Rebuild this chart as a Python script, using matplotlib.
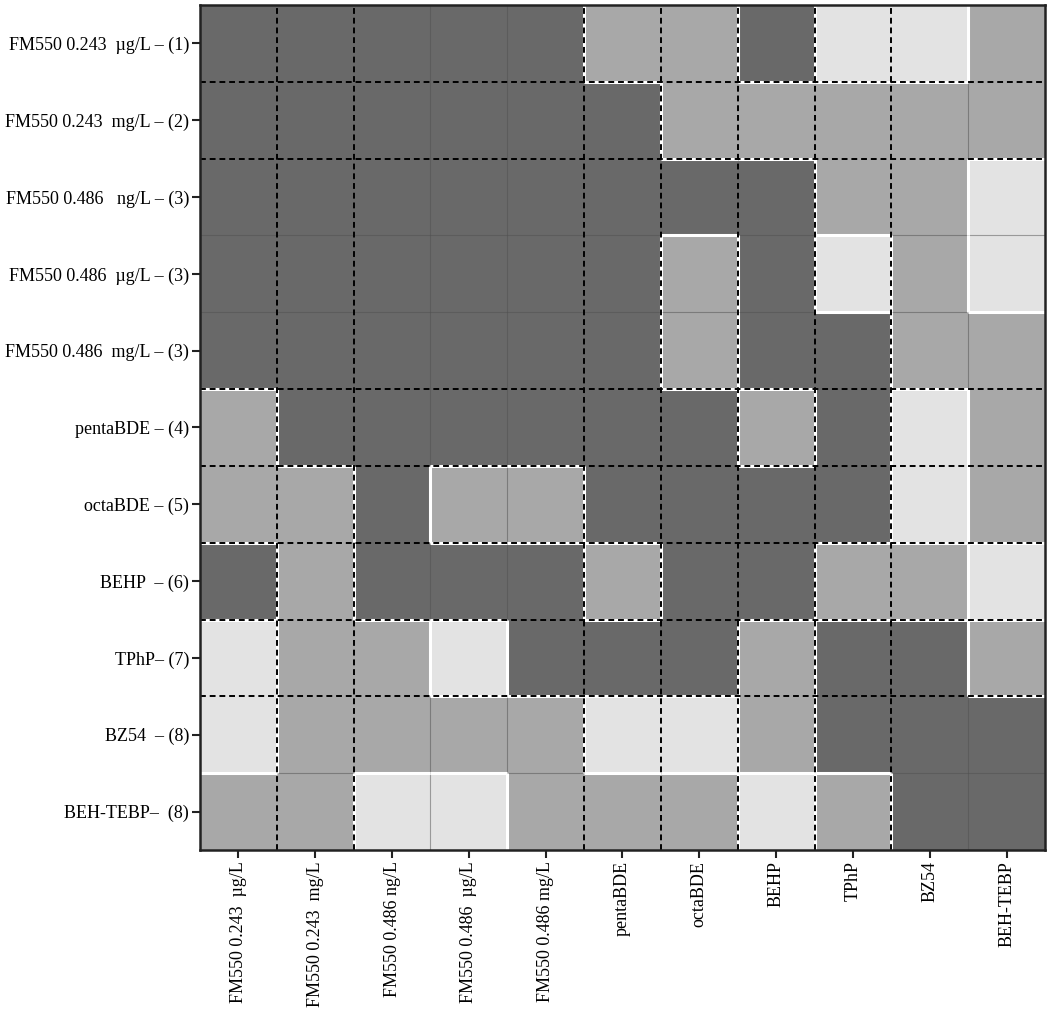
import matplotlib.pyplot as plt
import numpy as np
from matplotlib.colors import ListedColormap

# category labels
row_labels = [
    "FM550 0.243  \u00b5g/L \u2013 (1)",
    "FM550 0.243  mg/L \u2013 (2)",
    "FM550 0.486   ng/L \u2013 (3)",
    "FM550 0.486  \u00b5g/L \u2013 (3)",
    "FM550 0.486  mg/L \u2013 (3)",
    "pentaBDE \u2013 (4)",
    "octaBDE \u2013 (5)",
    "BEHP  \u2013 (6)",
    "TPhP\u2013 (7)",
    "BZ54  \u2013 (8)",
    "BEH-TEBP\u2013  (8)",
]
col_labels = [
    "FM550 0.243  \u00b5g/L",
    "FM550 0.243  mg/L",
    "FM550 0.486 ng/L",
    "FM550 0.486  \u00b5g/L",
    "FM550 0.486 mg/L",
    "pentaBDE",
    "octaBDE",
    "BEHP",
    "TPhP",
    "BZ54",
    "BEH-TEBP",
]

# 0 = dark, 1 = medium, 2 = light
levels = [
    [0, 0, 0, 0, 0, 1, 1, 0, 2, 2, 1],
    [0, 0, 0, 0, 0, 0, 1, 1, 1, 1, 1],
    [0, 0, 0, 0, 0, 0, 0, 0, 1, 1, 2],
    [0, 0, 0, 0, 0, 0, 1, 0, 2, 1, 2],
    [0, 0, 0, 0, 0, 0, 1, 0, 0, 1, 1],
    [1, 0, 0, 0, 0, 0, 0, 1, 0, 2, 1],
    [1, 1, 0, 1, 1, 0, 0, 0, 0, 2, 1],
    [0, 1, 0, 0, 0, 1, 0, 0, 1, 1, 2],
    [2, 1, 1, 2, 0, 0, 0, 1, 0, 0, 1],
    [2, 1, 1, 1, 1, 2, 2, 1, 0, 0, 0],
    [1, 1, 2, 2, 1, 1, 1, 2, 1, 0, 0],
]

# group boundaries (dashed) between compounds
group_breaks = [1, 2, 5, 6, 7, 8, 9]
inner_breaks = [3, 4, 10]

Z = np.array(levels)
n = len(row_labels)
cmap = ListedColormap(["#696969", "#a8a8a8", "#e3e3e3"])

plt.rcParams["font.family"] = ["Liberation Serif", "DejaVu Serif"]

fig = plt.figure(figsize=(10.5, 10.15), dpi=100)
ax = fig.add_axes([0.1905, 0.1626, 0.8047, 0.8325])

ax.pcolormesh(np.arange(n + 1), np.arange(n + 1), Z, cmap=cmap, vmin=-0.5, vmax=2.5)
ax.set_xlim(0, n)
ax.set_ylim(n, 0)

# faint seams inside merged blocks
for b in inner_breaks:
    ax.axhline(b, color="#505050", lw=0.8, alpha=0.5)
    ax.axvline(b, color="#505050", lw=0.8, alpha=0.5)

# white glow where shades change
for i in range(n):
    for j in range(n):
        if j + 1 < n and Z[i, j] != Z[i, j + 1]:
            ax.plot([j + 1, j + 1], [i, i + 1], color="white", lw=2.2, solid_capstyle="butt")
        if i + 1 < n and Z[i, j] != Z[i + 1, j]:
            ax.plot([j, j + 1], [i + 1, i + 1], color="white", lw=2.2, solid_capstyle="butt")

for b in group_breaks:
    ax.axhline(b, color="black", lw=1.4, linestyle=(0, (3, 2)))
    ax.axvline(b, color="black", lw=1.4, linestyle=(0, (3, 2)))

ax.set_xticks(np.arange(n) + 0.5)
ax.set_yticks(np.arange(n) + 0.5)
ax.set_xticklabels(col_labels, rotation=90, fontsize=13)
ax.set_yticklabels(row_labels, fontsize=13)
ax.tick_params(axis="both", length=6, width=1.5, pad=2, color="#222222")

for s in ax.spines.values():
    s.set_linewidth(1.8)
    s.set_color("#222222")

plt.savefig("out.png", dpi=100, facecolor="white")
